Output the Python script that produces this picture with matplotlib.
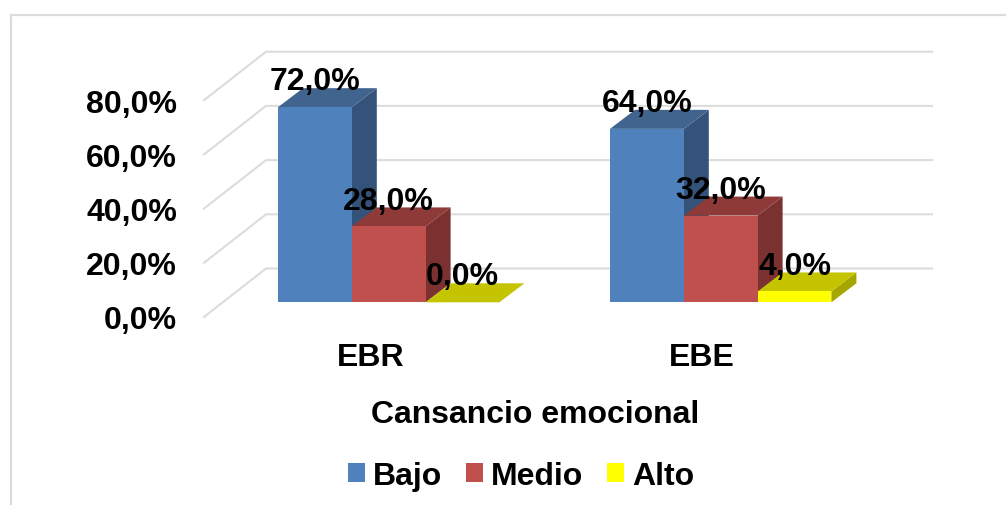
import matplotlib
matplotlib.use("Agg")
import matplotlib.pyplot as plt
from matplotlib.patches import Polygon, Patch, Rectangle

plt.rcParams["font.family"] = ["Liberation Sans", "DejaVu Sans"]
plt.rcParams["font.weight"] = "bold"

categories = ["EBR", "EBE"]
series_names = ["Bajo", "Medio", "Alto"]
bajo = [72.0, 64.0]
medio = [28.0, 32.0]
alto = [0.0, 4.0]
y_ticks = [0, 20, 40, 60, 80]
x_title = "Cansancio emocional"

front_colors = ["#4F81BD", "#C0504D", "#FFFF00"]
top_colors = ["#41648F", "#8E3A38", "#C4C400"]
side_colors = ["#35537A", "#7B3130", "#A6A600"]
grid_color = "#DCDCDC"

# one x unit = distance between the groups, y unit = one percent
px_x = 332.0
px_y = 2.71
x_origin = 388.7
bar_w = 73.8 / px_x
depth_x = 25.0 / px_x
depth_y = 19.0 / px_y
font_size = 23

fig = plt.figure(figsize=(10.06, 5.06), dpi=100)
ax = fig.add_axes([0, 0, 1, 1])
ax.set_xlim(-x_origin / px_x, (1006 - x_origin) / px_x)
ax.set_ylim(-(506 - 303.3) / px_y, 303.3 / px_y)
ax.axis("off")

def to_x(px):
    return (px - x_origin) / px_x

def to_y(px):
    return (303.3 - px) / px_y

# chart border, only top and left show in the crop
ax.plot([to_x(11), to_x(11)], [to_y(506), to_y(16)], color=grid_color, lw=1.6, zorder=1)
ax.plot([to_x(11), to_x(1006)], [to_y(16), to_y(16)], color=grid_color, lw=1.6, zorder=1)

# walls and gridlines
wall_front = to_y(318)
wall_back = to_y(269.5)
for t in y_ticks:
    ax.plot([to_x(204), to_x(266), to_x(932)],
            [wall_front + t, wall_back + t, wall_back + t],
            color=grid_color, lw=1.5, zorder=1, solid_joinstyle="miter")
    ax.text(to_x(177), wall_front + t, f"{t},0%", ha="right", va="center_baseline",
            fontsize=font_size, color="black", zorder=10)

# 3d bars
values = [bajo, medio, alto]
for g in range(len(categories)):
    for s in range(len(series_names)):
        v = values[s][g]
        x0 = g - 1.5 * bar_w + s * bar_w
        x1 = x0 + bar_w
        z = 2 + g + s * 0.1
        ax.add_patch(Polygon([(x1, 0), (x1 + depth_x, depth_y), (x1 + depth_x, v + depth_y), (x1, v)],
                             facecolor=side_colors[s], edgecolor="none", zorder=z))
        ax.add_patch(Polygon([(x0, v), (x1, v), (x1 + depth_x, v + depth_y), (x0 + depth_x, v + depth_y)],
                             facecolor=top_colors[s], edgecolor="none", zorder=z))
        if v > 0:
            ax.add_patch(Rectangle((x0, 0), bar_w, v, facecolor=front_colors[s], edgecolor="none", zorder=z))
        ax.text((x0 + x1) / 2, v + depth_y - 0.4, f"{v:.1f}".replace(".", ",") + "%",
                ha="center", va="baseline", fontsize=font_size, color="black", zorder=10)

# category labels sit a bit left of the group centre
for g, name in enumerate(categories):
    ax.text(g - 18.5 / px_x, to_y(366), name, ha="center", va="baseline", fontsize=font_size, color="black")

ax.text(to_x(535.5), to_y(423), x_title, ha="center", va="baseline", fontsize=font_size, color="black")

handles = [Patch(facecolor=c, edgecolor="none") for c in front_colors]
ax.legend(handles, series_names, loc="center", bbox_to_anchor=(521 / 1006, 1 - 477 / 506),
          ncol=3, frameon=False, fontsize=font_size, handlelength=0.53, handleheight=0.53,
          handletextpad=0.25, columnspacing=0.75, borderpad=0, borderaxespad=0)

fig.savefig("out.png", dpi=100)
